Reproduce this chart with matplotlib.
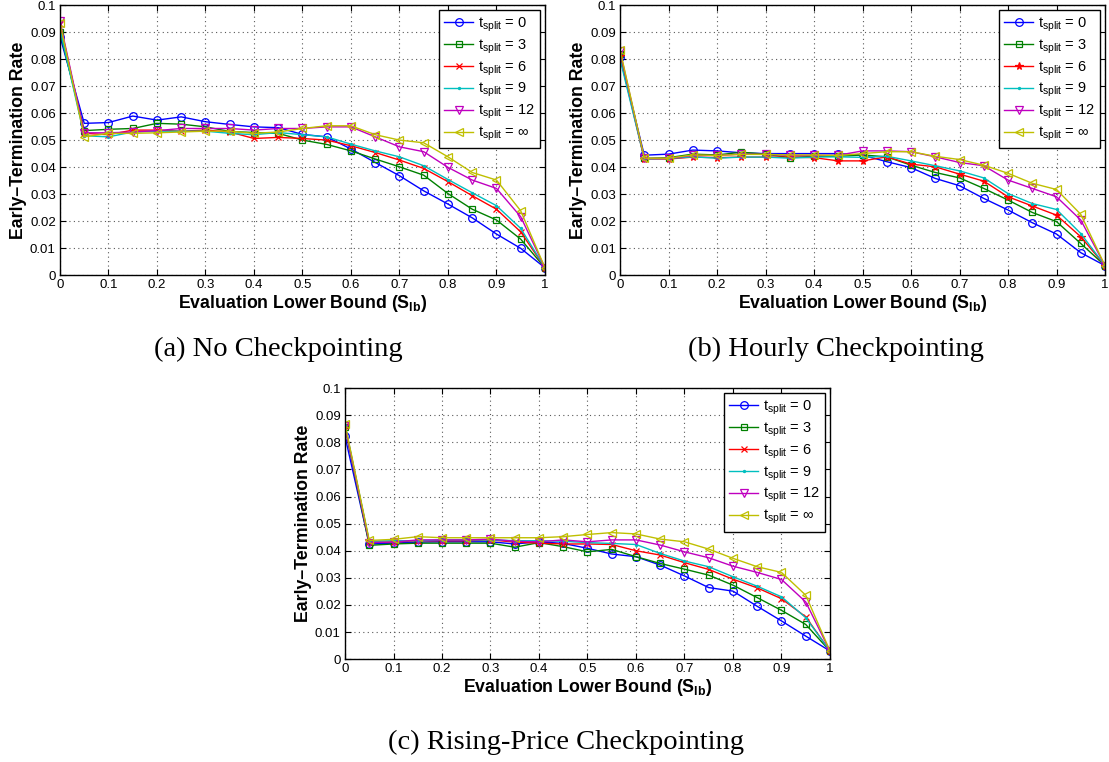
import matplotlib
matplotlib.use("Agg")
import matplotlib.pyplot as plt
import numpy as np

plt.rcParams['font.family'] = 'Liberation Sans'
plt.rcParams['mathtext.fontset'] = 'custom'
plt.rcParams['mathtext.rm'] = 'Liberation Sans'
plt.rcParams['mathtext.it'] = 'Liberation Sans'
plt.rcParams['mathtext.bf'] = 'Liberation Sans:bold'

# evaluation lower bound S_lb
s_lb = [0, 0.05, 0.1, 0.15, 0.2, 0.25, 0.3, 0.35, 0.4, 0.45, 0.5,
        0.55, 0.6, 0.65, 0.7, 0.75, 0.8, 0.85, 0.9, 0.95, 1.0]

split_labels = ['0', '3', '6', '9', '12', r'$\infty$']

# (a) No Checkpointing
a_t0 = [0.0883, 0.0562, 0.0565, 0.0589, 0.0574, 0.0586, 0.0568, 0.0558, 0.0549, 0.0546, 0.0521,
        0.0512, 0.0467, 0.0417, 0.0368, 0.0312, 0.0263, 0.0212, 0.0152, 0.0099, 0.0027]
a_t3 = [0.0900, 0.0535, 0.0540, 0.0543, 0.0562, 0.0559, 0.0549, 0.0532, 0.0528, 0.0525, 0.0500,
        0.0484, 0.0460, 0.0430, 0.0401, 0.0370, 0.0302, 0.0244, 0.0204, 0.0133, 0.0027]
a_t6 = [0.0930, 0.0525, 0.0520, 0.0537, 0.0537, 0.0533, 0.0537, 0.0530, 0.0506, 0.0510, 0.0506,
        0.0500, 0.0479, 0.0454, 0.0426, 0.0395, 0.0346, 0.0294, 0.0244, 0.0160, 0.0027]
a_t9 = [0.0910, 0.0516, 0.0512, 0.0530, 0.0533, 0.0533, 0.0533, 0.0525, 0.0520, 0.0528, 0.0520,
        0.0512, 0.0485, 0.0460, 0.0438, 0.0405, 0.0354, 0.0305, 0.0257, 0.0173, 0.0027]
a_t12 = [0.0940, 0.0527, 0.0527, 0.0530, 0.0535, 0.0543, 0.0543, 0.0543, 0.0537, 0.0543, 0.0543,
         0.0549, 0.0549, 0.0512, 0.0475, 0.0457, 0.0399, 0.0352, 0.0321, 0.0216, 0.0027]
a_tinf = [0.0935, 0.0512, 0.0525, 0.0525, 0.0527, 0.0530, 0.0533, 0.0533, 0.0525, 0.0530, 0.0543,
          0.0553, 0.0553, 0.0520, 0.0500, 0.0490, 0.0438, 0.0380, 0.0352, 0.0238, 0.0027]

# (b) Hourly Checkpointing
b_t0 = [0.0809, 0.0444, 0.0448, 0.0463, 0.0460, 0.0453, 0.0450, 0.0450, 0.0450, 0.0450, 0.0444,
        0.0420, 0.0398, 0.0358, 0.0331, 0.0284, 0.0241, 0.0194, 0.0152, 0.0083, 0.0035]
b_t3 = [0.0820, 0.0432, 0.0435, 0.0448, 0.0445, 0.0455, 0.0448, 0.0435, 0.0440, 0.0440, 0.0445,
        0.0438, 0.0407, 0.0380, 0.0360, 0.0321, 0.0278, 0.0232, 0.0198, 0.0117, 0.0035]
b_t6 = [0.0810, 0.0430, 0.0430, 0.0437, 0.0435, 0.0437, 0.0437, 0.0437, 0.0435, 0.0423, 0.0423,
        0.0438, 0.0411, 0.0401, 0.0374, 0.0348, 0.0290, 0.0256, 0.0222, 0.0142, 0.0035]
b_t9 = [0.0800, 0.0430, 0.0432, 0.0438, 0.0433, 0.0437, 0.0437, 0.0433, 0.0437, 0.0438, 0.0436,
        0.0440, 0.0423, 0.0405, 0.0386, 0.0360, 0.0302, 0.0265, 0.0243, 0.0154, 0.0035]
b_t12 = [0.0830, 0.0432, 0.0432, 0.0443, 0.0443, 0.0448, 0.0447, 0.0443, 0.0443, 0.0444, 0.0460,
         0.0460, 0.0457, 0.0438, 0.0417, 0.0405, 0.0352, 0.0321, 0.0290, 0.0204, 0.0035]
b_tinf = [0.0835, 0.0433, 0.0433, 0.0445, 0.0443, 0.0447, 0.0447, 0.0445, 0.0445, 0.0443, 0.0450,
          0.0457, 0.0457, 0.0440, 0.0428, 0.0407, 0.0377, 0.0340, 0.0317, 0.0225, 0.0035]

# (c) Rising-Price Checkpointing
c_t0 = [0.0822, 0.0425, 0.0428, 0.0432, 0.0433, 0.0433, 0.0433, 0.0425, 0.0433, 0.0427, 0.0409,
        0.0388, 0.0378, 0.0347, 0.0307, 0.0264, 0.0251, 0.0195, 0.0141, 0.0085, 0.0030]
c_t3 = [0.0855, 0.0420, 0.0425, 0.0428, 0.0428, 0.0428, 0.0428, 0.0413, 0.0430, 0.0415, 0.0396,
        0.0405, 0.0378, 0.0353, 0.0332, 0.0310, 0.0273, 0.0227, 0.0180, 0.0128, 0.0030]
c_t6 = [0.0860, 0.0432, 0.0432, 0.0437, 0.0437, 0.0437, 0.0440, 0.0432, 0.0428, 0.0425, 0.0425,
        0.0423, 0.0400, 0.0384, 0.0356, 0.0331, 0.0295, 0.0263, 0.0223, 0.0156, 0.0030]
c_t9 = [0.0865, 0.0435, 0.0437, 0.0437, 0.0440, 0.0440, 0.0440, 0.0437, 0.0437, 0.0435, 0.0430,
        0.0427, 0.0423, 0.0390, 0.0362, 0.0341, 0.0304, 0.0269, 0.0230, 0.0153, 0.0030]
c_t12 = [0.0860, 0.0430, 0.0432, 0.0440, 0.0440, 0.0440, 0.0443, 0.0435, 0.0433, 0.0440, 0.0433,
         0.0440, 0.0440, 0.0421, 0.0396, 0.0374, 0.0343, 0.0320, 0.0294, 0.0211, 0.0030]
c_tinf = [0.0868, 0.0438, 0.0442, 0.0452, 0.0448, 0.0448, 0.0448, 0.0448, 0.0448, 0.0452, 0.0460,
          0.0467, 0.0462, 0.0443, 0.0433, 0.0406, 0.0372, 0.0341, 0.0320, 0.0236, 0.0030]

colors = [(0, 0, 1), (0, 0.5, 0), (1, 0, 0), (0, 0.75, 0.75), (0.75, 0, 0.75), (0.75, 0.75, 0)]
msizes = {'o': 5.5, 's': 5, 'x': 4, '*': 5.5, '.': 3, 'v': 6, '<': 6}


def draw_panel(ax, series, markers, caption, cap_x, cap_y, fig):
    for vals, lab, col, mk in zip(series, split_labels, colors, markers):
        filled = mk in ('x', '*', '.')
        ax.plot(s_lb, vals, color=col, lw=1.0, marker=mk,
                markersize=msizes[mk],
                markerfacecolor=col if filled else 'none',
                markeredgecolor=col, markeredgewidth=0.9,
                label=r'$\mathrm{t_{split}}$ = ' + lab)
    ax.set_xlim(0, 1)
    ax.set_ylim(0, 0.1)
    ax.set_xticks(np.arange(0, 1.01, 0.1))
    ax.set_yticks(np.arange(0, 0.1001, 0.01))
    ax.set_xticklabels(['%g' % round(v, 2) for v in np.arange(0, 1.01, 0.1)])
    ax.set_yticklabels(['%g' % round(v, 2) for v in np.arange(0, 0.1001, 0.01)])
    ax.tick_params(direction='in', top=True, right=True, labelsize=9.5, length=4, pad=3)
    ax.grid(True, linestyle=(0, (1, 3)), color='0.35', lw=0.8)
    for sp in ax.spines.values():
        sp.set_linewidth(1.0)
    ax.set_xlabel(r'Evaluation Lower Bound ($\mathbf{S_{lb}}$)', fontsize=12.8,
                  fontweight='bold', labelpad=1)
    ax.set_ylabel('Early\u2013Termination Rate', fontsize=12.8, fontweight='bold', labelpad=2)
    leg = ax.legend(loc='upper right', fontsize=10.5, fancybox=False, framealpha=1,
                    edgecolor='black', borderaxespad=0.35, handlelength=2.0,
                    handletextpad=0.3, labelspacing=0.25, borderpad=0.35)
    leg.get_frame().set_linewidth(1.0)
    fig.text(cap_x, cap_y, caption, fontsize=20.5, family='Liberation Serif',
             ha='center', va='center')


fig = plt.figure(figsize=(11.09, 7.62), dpi=100)
ax_a = fig.add_axes([0.0541, 0.639, 0.4373, 0.3543])
ax_b = fig.add_axes([0.5591, 0.639, 0.4373, 0.3543])
ax_c = fig.add_axes([0.3111, 0.135, 0.4373, 0.3556])

draw_panel(ax_a, [a_t0, a_t3, a_t6, a_t9, a_t12, a_tinf],
           ['o', 's', 'x', '.', 'v', '<'], '(a) No Checkpointing', 0.251, 0.541, fig)
draw_panel(ax_b, [b_t0, b_t3, b_t6, b_t9, b_t12, b_tinf],
           ['o', 's', '*', '.', 'v', '<'], '(b) Hourly Checkpointing', 0.754, 0.541, fig)
draw_panel(ax_c, [c_t0, c_t3, c_t6, c_t9, c_t12, c_tinf],
           ['o', 's', 'x', '.', 'v', '<'], '(c) Rising-Price Checkpointing', 0.510, 0.026, fig)

fig.savefig('out.png', dpi=100)
